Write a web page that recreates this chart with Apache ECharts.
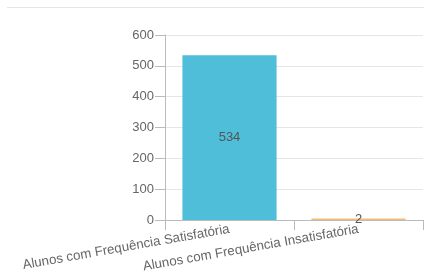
<!DOCTYPE html>
<html>
<head>
<meta charset="utf-8">
<script src="https://cdn.jsdelivr.net/npm/echarts@6/dist/echarts.min.js"></script>
<style>
  html, body { margin: 0; padding: 0; background: #fff; }
  #topline { position: absolute; left: 7px; right: 0; top: 7px; border-top: 1px solid #e5e5e5; }
  #chart { width: 424px; height: 278px; }
</style>
</head>
<body>
<div id="topline"></div>
<div id="chart"></div>
<script>
var categorias = ['Alunos com Frequência Satisfatória', 'Alunos com Frequência Insatisfatória'];
var valores = [534, 2];
var cores = ['#4fbed8', '#f2bd72'];
var yTicks = [0, 100, 200, 300, 400, 500, 600];

var chart = echarts.init(document.getElementById('chart'));
var option = {
  animation: false,
  textStyle: { fontFamily: 'Liberation Sans, Arial, sans-serif' },
  grid: { left: 165, right: 1, top: 35, bottom: 58, containLabel: false },
  xAxis: {
    type: 'category',
    data: categorias,
    axisLine: { lineStyle: { color: '#bbb' } },
    axisTick: { show: true, length: 10, lineStyle: { color: '#bbb' } },
    axisLabel: { rotate: 10, color: '#666', fontSize: 13.3, interval: 0, margin: 9 }
  },
  yAxis: {
    type: 'value',
    min: yTicks[0],
    max: yTicks[yTicks.length - 1],
    interval: 100,
    axisLine: { show: true, lineStyle: { color: '#bbb' } },
    axisTick: { show: true, length: 10, lineStyle: { color: '#bbb' } },
    axisLabel: { color: '#666', fontSize: 13, margin: 11 },
    splitLine: { lineStyle: { color: '#e6e6e6' } }
  },
  series: [{
    type: 'bar',
    z: 5,
    barCategoryGap: '27%',
    barMinHeight: 1.6,
    data: valores.map(function (v, i) {
      return { value: v, itemStyle: { color: cores[i] } };
    }),
    label: { show: true, position: 'inside', color: '#555', fontSize: 13 }
  }]
};
chart.setOption(option);
</script>
</body>
</html>
